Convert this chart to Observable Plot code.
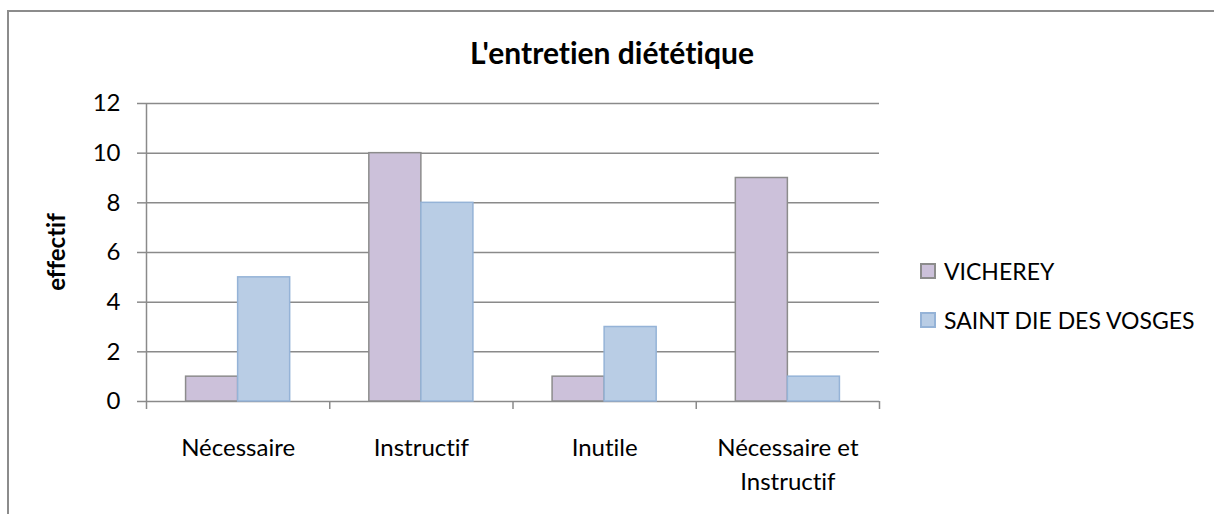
<!DOCTYPE html>
<html>
<head>
<meta charset="utf-8">
<script src="https://cdn.jsdelivr.net/npm/d3@7"></script>
<script src="https://cdn.jsdelivr.net/npm/@observablehq/plot@0.6"></script>
<style>
  html, body { margin: 0; padding: 0; background: #fff; }
  #wrap { position: relative; width: 1214px; height: 514px; overflow: hidden; font-family: Lato, "Open Sans", sans-serif; color: #000; font-variant-ligatures: none; font-feature-settings: "liga" 0, "clig" 0; }
  #wrap svg, #wrap svg text { font-variant-ligatures: none; font-feature-settings: "liga" 0, "clig" 0; }
  #frame { position: absolute; left: 7px; top: 10px; width: 1400px; height: 700px; border-left: 2px solid #8c8c8c; border-top: 2px solid #8c8c8c; box-sizing: border-box; }
  #chart { position: absolute; left: 0; top: 0; }
  #title { position: absolute; left: 612px; top: 52px; transform: translate(-50%, -50%); font-weight: bold; font-size: 30px; white-space: nowrap; }
  #ylabel { position: absolute; left: 55px; top: 252px; transform: translate(-50%, -50%) rotate(-90deg); font-weight: bold; font-size: 24px; white-space: nowrap; }
  #legend { position: absolute; left: 920px; top: 256px; font-size: 23px; }
  .item { display: flex; align-items: center; height: 30px; margin-bottom: 19px; white-space: nowrap; }
  .sw { width: 12px; height: 12px; border: 2px solid; margin-right: 8px; flex: none; }
</style>
</head>
<body>
<div id="wrap">
  <div id="frame"></div>
  <div id="chart"></div>
  <div id="title"></div>
  <div id="ylabel"></div>
  <div id="legend"></div>
</div>
<script>
const title = "L'entretien diététique";
const yLabel = "effectif";
const categories = ["Nécessaire", "Instructif", "Inutile", "Nécessaire et Instructif"];
const categoryLabels = ["Nécessaire", "Instructif", "Inutile", "Nécessaire et\nInstructif"];
const series = ["VICHEREY", "SAINT DIE DES VOSGES"];
const vicherey = [1, 10, 1, 9];
const saintDie = [5, 8, 3, 1];
const yTicks = [0, 2, 4, 6, 8, 10, 12];
const fills = ["#CCC1DA", "#B9CDE5"];
const strokes = ["#8C8C8C", "#95B3D7"];

const values = [vicherey, saintDie];
const data = categories.flatMap((c, i) =>
  series.map((s, k) => ({ category: c, index: i, series: s, k, value: values[k][i] }))
);

const barW = 0.284; // bar width as a fraction of one category slot
const boundaries = d3.range(categories.length + 1);
const centers = categories.map((c, i) => i + 0.5);

const plot = Plot.plot({
  width: 1214,
  height: 514,
  marginLeft: 146,
  marginRight: 335,
  marginTop: 103,
  marginBottom: 113,
  style: { fontFamily: "Lato, 'Open Sans', sans-serif", fontSize: "24px", color: "#000", background: "transparent", overflow: "visible" },
  x: { domain: [0, categories.length], axis: null },
  y: { domain: [0, 12], axis: null },
  color: { domain: series, range: fills },
  marks: [
    Plot.ruleY(yTicks, { stroke: "#8a8a8a", strokeWidth: 1.5 }),
    Plot.axisY({ ticks: yTicks, tickSize: 9, tickPadding: 17, stroke: "#8a8a8a", strokeWidth: 1.5, label: null, fill: "#000" }),
    Plot.ruleX([0], { stroke: "#8a8a8a", strokeWidth: 1.5 }),
    Plot.rectY(data, {
      x1: d => d.index + 0.5 + (d.k - 1) * barW,
      x2: d => d.index + 0.5 + d.k * barW,
      y1: 0,
      y2: "value",
      fill: "series",
      stroke: d => strokes[d.k],
      strokeWidth: 1.5
    }),
    Plot.axisX({ ticks: boundaries, tickSize: 8, tickFormat: () => "", stroke: "#8a8a8a", strokeWidth: 1.5, label: null }),
    Plot.axisX({ ticks: centers, tickSize: 0, tickPadding: 30, lineHeight: 1.42, tickFormat: v => categoryLabels[Math.floor(v)], label: null, fill: "#000" })
  ]
});
document.getElementById("chart").appendChild(plot);

document.getElementById("title").textContent = title;
document.getElementById("ylabel").textContent = yLabel;
const legend = document.getElementById("legend");
series.forEach((s, k) => {
  const item = document.createElement("div");
  item.className = "item";
  const sw = document.createElement("div");
  sw.className = "sw";
  sw.style.background = fills[k];
  sw.style.borderColor = strokes[k];
  const t = document.createElement("span");
  t.textContent = s;
  item.appendChild(sw);
  item.appendChild(t);
  legend.appendChild(item);
});
</script>
</body>
</html>
